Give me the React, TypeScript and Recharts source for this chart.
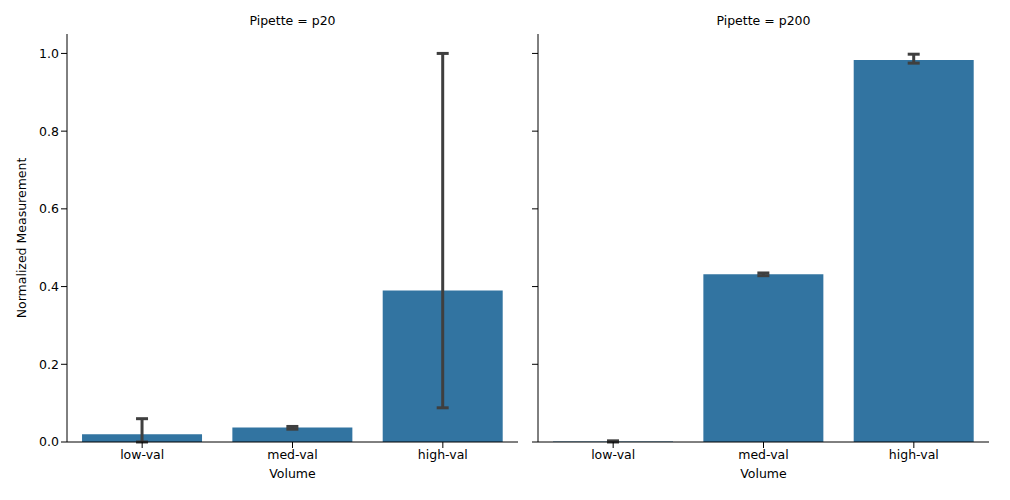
import React from 'react';
import { BarChart, Bar, XAxis, YAxis, ErrorBar, Label } from 'recharts';

const categories = ['low-val', 'med-val', 'high-val'];
const p20Values = [0.02, 0.037, 0.39];
const p20Low = [0.0, 0.033, 0.088];
const p20High = [0.06, 0.04, 1.0];
const p200Values = [0.001, 0.432, 0.983];
const p200Low = [0.0, 0.428, 0.975];
const p200High = [0.003, 0.435, 0.998];
const yTicks = [0, 0.2, 0.4, 0.6, 0.8, 1.0];

const build = (v: number[], lo: number[], hi: number[]) =>
  categories.map((c, i) => ({ name: c, value: v[i], err: [v[i] - lo[i], hi[i] - v[i]] }));

const font = { fontFamily: 'DejaVu Sans', fontSize: 12.5, fill: '#000' };

function Panel({ data, left, title, first }: any) {
  return (
    <div style={{ position: 'absolute', left, top: 0 }}>
      <div style={{ position: 'absolute', top: 13, left: first ? 67 : 18, width: 451, textAlign: 'center', fontFamily: 'DejaVu Sans', fontSize: 12.5 }}>{title}</div>
      <BarChart width={first ? 530 : 490} height={500} data={data} barCategoryGap="10%"
        margin={{ top: 34, right: first ? 12 : 21, bottom: 22, left: first ? 17 : 17 }}>
        <XAxis dataKey="name" tick={font} stroke="#000" tickLine={{ stroke: '#000' }} height={36}>
          <Label value="Volume" position="insideBottom" offset={0} style={font} />
        </XAxis>
        <YAxis domain={[0, 1.05]} ticks={yTicks} stroke="#000" width={first ? 50 : 1}
          tick={font} tickFormatter={(t: number) => (first ? t.toFixed(1) : '')} />
        <Bar dataKey="value" fill="#3274a1" isAnimationActive={false}>
          <ErrorBar dataKey="err" stroke="#3f3f3f" strokeWidth={3} width={6} />
        </Bar>
      </BarChart>
      {first && (
        <svg style={{ position: 'absolute', left: 0, top: 0 }} width={40} height={500}>
          <text x={26} y={238} transform="rotate(-90 26 238)" textAnchor="middle" style={font}>Normalized Measurement</text>
        </svg>
      )}
    </div>
  );
}

export default function App() {
  return (
    <div style={{ position: 'relative', width: 1010, height: 500, margin: -8, background: '#fff' }}>
      <Panel data={build(p20Values, p20Low, p20High)} left={0} title="Pipette = p20" first />
      <Panel data={build(p200Values, p200Low, p200High)} left={520} title="Pipette = p200" />
    </div>
  );
}
